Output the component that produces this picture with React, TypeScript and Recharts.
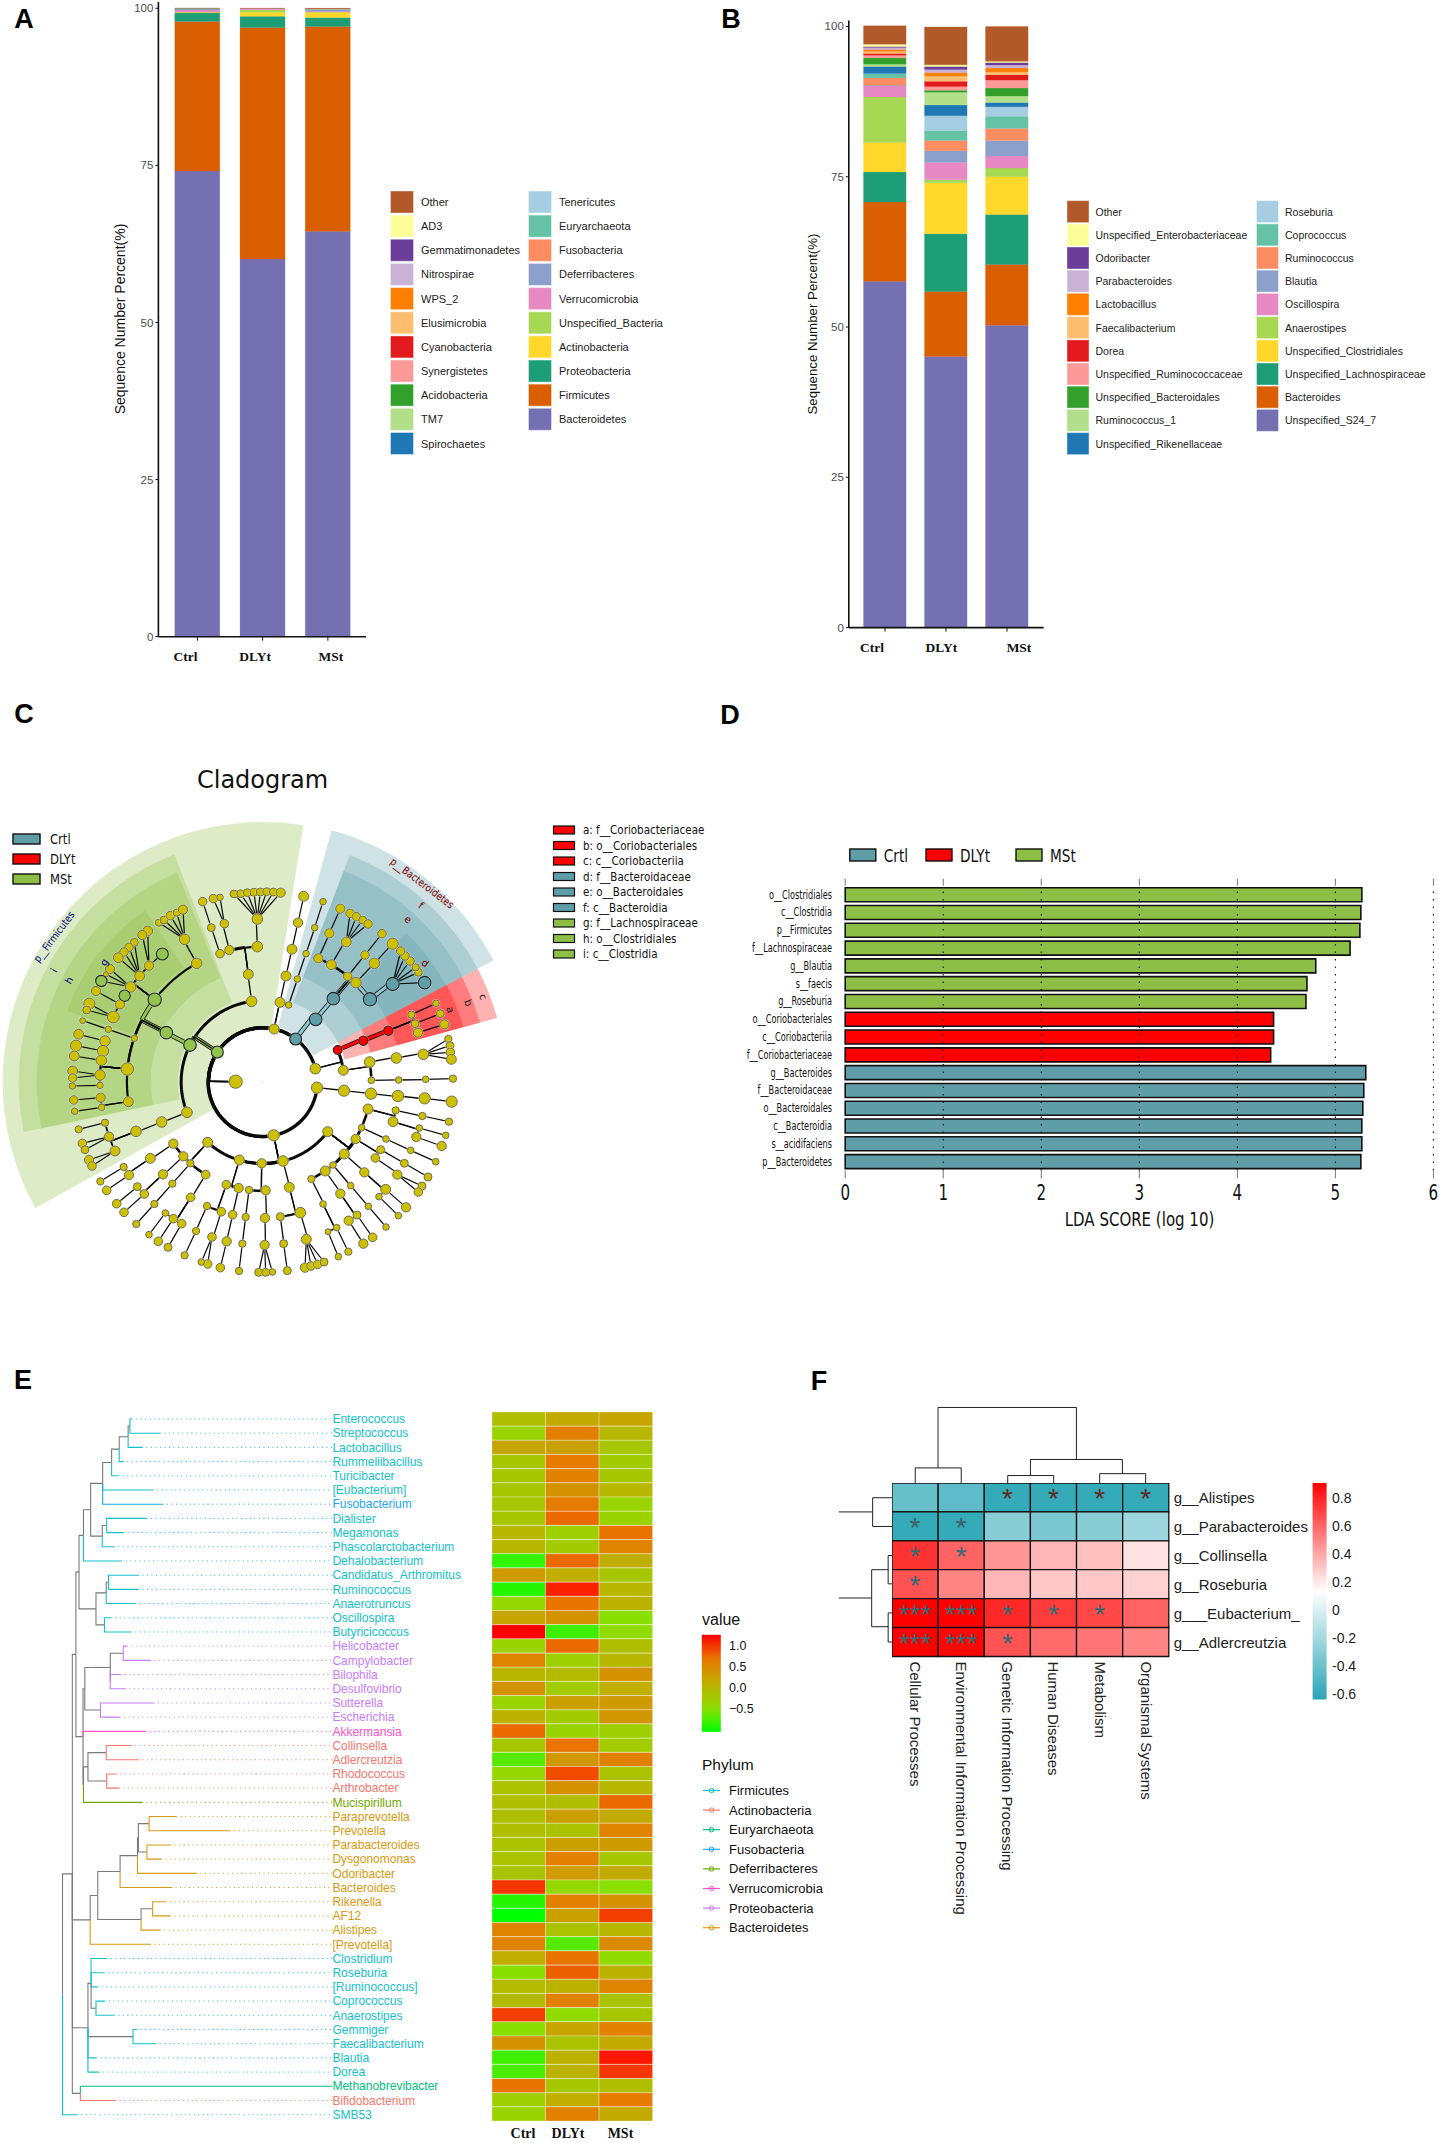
import React from 'react';
import {
  Bar, BarChart, Cell, LabelList, Pie, PieChart, ReferenceLine, Scatter, ScatterChart, XAxis, YAxis,
} from 'recharts';

const SANS = '"Liberation Sans", Arial, sans-serif';
const DEJAVU = '"DejaVu Sans", sans-serif';
const SERIF = '"Liberation Serif", serif';

const samples = ['Ctrl', 'DLYt', 'MSt'];

// panel A, bottom of stack first
const phylumNames = ['Bacteroidetes', 'Firmicutes', 'Proteobacteria', 'Actinobacteria', 'Unspecified_Bacteria', 'Verrucomicrobia', 'Deferribacteres', 'Fusobacteria', 'Euryarchaeota', 'Tenericutes', 'Spirochaetes', 'TM7', 'Acidobacteria', 'Synergistetes', 'Cyanobacteria', 'Elusimicrobia', 'WPS_2', 'Nitrospirae', 'Gemmatimonadetes', 'AD3', 'Other'];
const phylumCtrl = [74.1, 23.8, 1.36, 0.1, 0.03, 0.35, 0.2, 0.01, 0.01, 0.01, 0.01, 0.01, 0, 0, 0, 0, 0, 0, 0, 0, 0.01];
const phylumDlyt = [60.1, 36.83, 1.8, 0.63, 0.42, 0.15, 0.05, 0, 0, 0, 0, 0, 0, 0, 0, 0, 0, 0, 0, 0, 0.02];
const phylumMst = [64.5, 32.59, 1.43, 0.85, 0.05, 0.05, 0.35, 0.02, 0.02, 0.02, 0, 0, 0, 0, 0, 0, 0, 0, 0, 0, 0.12];

// panel B, bottom of stack first
const genusNames = ['Unspecified_S24_7', 'Bacteroides', 'Unspecified_Lachnospiraceae', 'Unspecified_Clostridiales', 'Anaerostipes', 'Oscillospira', 'Blautia', 'Ruminococcus', 'Coprococcus', 'Roseburia', 'Unspecified_Rikenellaceae', 'Ruminococcus_1', 'Unspecified_Bacteroidales', 'Unspecified_Ruminococcaceae', 'Dorea', 'Faecalibacterium', 'Lactobacillus', 'Parabacteroides', 'Odoribacter', 'Unspecified_Enterobacteriaceae', 'Other'];
const genusCtrl = [57.6, 13.2, 5.0, 4.88, 7.6, 1.83, 0.11, 1.22, 0.67, 0.05, 1.17, 0.39, 1.05, 0.44, 0.28, 0.33, 0.33, 0.33, 0.17, 0.4, 3.05];
const genusDlyt = [45.1, 10.8, 9.6, 8.5, 0.5, 2.88, 1.94, 1.72, 1.66, 2.44, 1.77, 2.16, 0.33, 0.6, 0.9, 0.83, 0.6, 0.5, 0.5, 0.28, 6.3];
const genusMst = [50.3, 10.1, 8.3, 6.3, 1.44, 2.0, 2.6, 2.0, 2.0, 1.6, 0.72, 1.05, 1.33, 1.33, 0.9, 0.44, 0.67, 0.5, 0.4, 0.22, 5.8];

const stackColors = ['#7470B2', '#DA5F01', '#1D9E77', '#FFD82B', '#A6D854', '#E78AC3', '#8DA0CB', '#FC8D62', '#66C2A5', '#A6CEE3', '#1F78B4', '#B2DF8A', '#33A02C', '#FB9A99', '#E31A1C', '#FDBF6F', '#FF7F00', '#CAB2D6', '#6A3D9A', '#FFFF99', '#B15928'];

// panel D
const ldaNames = ['o__Clostridiales', 'c__Clostridia', 'p__Firmicutes', 'f__Lachnospiraceae', 'g__Blautia', 's__faecis', 'g__Roseburia', 'o__Coriobacteriales', 'c__Coriobacteriia', 'f__Coriobacteriaceae', 'g__Bacteroides', 'f__Bacteroidaceae', 'o__Bacteroidales', 'c__Bacteroidia', 's__acidifaciens', 'p__Bacteroidetes'];
const ldaScores = [5.27, 5.26, 5.25, 5.15, 4.8, 4.71, 4.7, 4.37, 4.37, 4.34, 5.31, 5.29, 5.28, 5.27, 5.27, 5.26];
const ldaGroups = ['MSt', 'MSt', 'MSt', 'MSt', 'MSt', 'MSt', 'MSt', 'DLYt', 'DLYt', 'DLYt', 'Crtl', 'Crtl', 'Crtl', 'Crtl', 'Crtl', 'Crtl'];
const groupColors: any = { Crtl: '#5F9EA8', DLYt: '#FF0000', MSt: '#8DBF47' };

// panel C, shaded clades: [colour, inner radius, outer radius, start angle, end angle]
const cladeSectors: any[] = [
  ['#8DBF47', 56, 260, 81, 209], ['#8DBF47', 85, 244, 111.2, 191.8], ['#8DBF47', 112, 226, 112.2, 191.8], ['#8DBF47', 139, 208, 124.5, 160],
  ['#5F9EA8', 57, 261, 27.8, 74.7], ['#5F9EA8', 85, 243, 27.8, 69], ['#5F9EA8', 112, 226, 27.8, 69], ['#5F9EA8', 139, 207, 27.8, 46],
  ['#FF0000', 85, 243, 15.3, 27.8], ['#FF0000', 112, 225, 15.3, 27.8], ['#FF0000', 139, 208, 15.3, 27.8],
];

const topLeftNodes: any[] = [
  ['K', 'root', 707, 695, 20], ['F', 'K', 652, 606, 18, 'g'], ['F1', 'F', 755, 454, 16], ['F2', 'F', 570, 585, 19, 'g'],
  ['F1o', 'F1', 745, 373, 15], ['F1a', 'F1o', 772, 290, 16], ['F1b', 'F1o', 688, 300, 14], ['F1c', 'F1o', 660, 311, 13],
  ['F1a1', 'F1a', 772, 207, 16], ['fa1', 'F1a1', 702, 132, 12], ['fa2', 'F1a1', 722, 131, 12], ['fa3', 'F1a1', 742, 128, 12], ['fa4', 'F1a1', 762, 127, 12], ['fa5', 'F1a1', 781, 126, 12], ['fa6', 'F1a1', 800, 125, 12], ['fa7', 'F1a1', 820, 126, 12], ['fa8', 'F1a1', 842, 128, 14],
  ['F1b1', 'F1b', 673, 221, 13], ['F1b2', 'F1b1', 640, 146, 13], ['F1b3', 'F1b1', 660, 142, 10],
  ['F1c1', 'F1c', 634, 233, 12], ['F1c2', 'F1c1', 608, 155, 13],
  ['F2o', 'F2', 499, 548, 19, 'g'], ['Fa', 'F2o', 590, 340, 16], ['Fb', 'F2o', 464, 449, 20, 'g'], ['Fc', 'F2o', 403, 565, 10], ['Fd', 'F2o', 382, 657, 19], ['Fe', 'F2o', 385, 755, 15],
  ['Fa1', 'Fa', 554, 268, 16], ['Fa2', 'Fa1', 477, 218, 11], ['Fa3', 'Fa1', 492, 210, 12], ['Fa4', 'Fa1', 511, 197, 13], ['Fa5', 'Fa1', 530, 188, 11], ['Fa6', 'Fa1', 549, 179, 14],
  ['Fb1', 'Fb', 447, 347, 14], ['Fb2', 'Fb', 419, 378, 15], ['Fb3', 'Fb', 392, 411, 16], ['Fb4', 'Fb', 360, 463, 14], ['Fb5', 'Fb', 340, 501, 18],
  ['Fb1a', 'Fb1', 487, 312, 18, 'g'], ['Fb1b', 'Fb1', 443, 243, 15], ['Fb1c', 'Fb1', 427, 255, 14],
  ['Fb2a', 'Fb2', 403, 277, 12], ['Fb2b', 'Fb2', 387, 292, 13], ['Fb2c', 'Fb2', 372, 306, 13], ['Fb2d', 'Fb2', 355, 323, 15],
  ['Fb3a', 'Fb3', 330, 357, 14], ['Fb3b', 'Fb3', 318, 373, 8], ['Fb3c', 'Fb3', 374, 437, 17, 'g'], ['Fb3d', 'Fb3', 304, 393, 17, 'g'],
  ['Fb4a', 'Fb4', 288, 423, 14], ['Fb5a', 'Fb5', 268, 461, 17], ['Fb5b', 'Fb5', 260, 480, 12],
  ['Fc1', 'Fc', 325, 538, 10], ['Fc2', 'Fc1', 248, 512, 9],
  ['Fd1', 'Fd', 315, 573, 16], ['Fd2', 'Fd', 309, 603, 17], ['Fd3', 'Fd', 304, 631, 16], ['Fd4', 'Fd', 300, 675, 16], ['Fd5', 'Fd', 300, 706, 10],
  ['Fd1a', 'Fd1', 236, 553, 15], ['Fd2a', 'Fd2', 228, 587, 17], ['Fd3a', 'Fd3', 223, 618, 15], ['Fd4a', 'Fd4', 218, 663, 15], ['Fd4b', 'Fd4', 218, 684, 13], ['Fd5a', 'Fd5', 217, 708, 10],
  ['Fe1', 'Fe', 302, 743, 14], ['Fe1a', 'Fe1', 221, 750, 13],
];
const topRightNodes: any[] = [
  ['root', null, 38, 696, 1.5, 'g'],
  ['P2', 'K', 72, 537, 15], ['P2a', 'P2', 90, 457, 15], ['P2b', 'P2', 116, 465, 10],
  ['P2a1', 'P2a', 108, 378, 15], ['P2a2', 'P2a1', 126, 298, 15], ['P2a3', 'P2a2', 144, 218, 14], ['P2a4', 'P2a3', 161, 139, 15],
  ['P2b1', 'P2b', 142, 387, 10], ['P2b2', 'P2b1', 168, 311, 10], ['P2b3', 'P2b2', 194, 233, 10], ['P2b4', 'P2b3', 219, 155, 10],
  ['T', 'K', 137, 567, 18, 't'], ['Tc', 'T', 197, 508, 19, 't'], ['To', 'Tc', 250, 446, 19, 't'],
  ['Tf1', 'To', 360, 448, 20, 't'], ['Tf2', 'To', 318, 398, 16], ['Tf3', 'To', 293, 379, 13], ['Tf4', 'To', 244, 344, 15], ['Tf5', 'To', 205, 325, 14],
  ['Tg1', 'Tf1', 428, 402, 20, 't'], ['Tg2', 'Tf2', 373, 340, 16], ['Tg3', 'Tf3', 345, 315, 13], ['Tg4', 'Tf4', 289, 276, 15], ['Tg5', 'Tf5', 238, 250, 14],
  ['Ts2', 'Tg2', 428, 281, 17], ['Ts3', 'Tg3', 396, 251, 13], ['Ts5', 'Tg5', 271, 176, 14],
  ['Ts4a', 'Tg4', 300, 190, 13], ['Ts4b', 'Tg4', 319, 200, 13], ['Ts4c', 'Tg4', 338, 210, 12], ['Ts4d', 'Tg4', 354, 222, 13],
  ['Ts1a', 'Tg1', 524, 398, 19, 't'], ['Ts1b', 'Tg1', 505, 367, 12], ['Ts1c', 'Tg1', 497, 352, 11], ['Ts1d', 'Tg1', 480, 333, 13], ['Ts1e', 'Tg1', 465, 318, 13], ['Ts1f', 'Tg1', 452, 303, 13],
  ['A', 'K', 196, 656, 16], ['Ar', 'A', 263, 600, 13, 'r'], ['Ay', 'A', 280, 661, 15],
  ['Ar1', 'Ar', 340, 572, 14, 'r'], ['Ar2', 'Ar1', 415, 542, 14, 'r'],
  ['Ar3', 'Ar2', 484, 494, 11], ['Ar4', 'Ar2', 495, 521, 12], ['Ar5', 'Ar2', 504, 548, 14],
  ['Ar3a', 'Ar3', 558, 460, 10], ['Ar4a', 'Ar4', 571, 491, 12], ['Ar5a', 'Ar5', 583, 523, 14],
  ['Ay1', 'Ay', 359, 636, 16], ['Ay2', 'Ay', 364, 691, 10], ['Ay1a', 'Ay1', 439, 624, 16], ['Ay1b', 'Ay1a', 520, 613, 16],
  ['Ay1c', 'Ay1b', 595, 567, 11], ['Ay1d', 'Ay1b', 600, 587, 12], ['Ay1e', 'Ay1b', 601, 607, 13], ['Ay1f', 'Ay1b', 604, 628, 15],
  ['Ay2a', 'Ay2', 446, 690, 10], ['Ay2b', 'Ay2a', 527, 688, 10], ['Ay2c', 'Ay2b', 609, 686, 11],
  ['C1', 'K', 201, 713, 17], ['C2', 'C1', 282, 722, 17], ['C3', 'C2', 363, 731, 17], ['C4', 'C3', 444, 738, 17], ['C5', 'C4', 524, 745, 17], ['C6', 'C5', 605, 755, 17],
];
const bottomLeftNodes: any[] = [
  ['Ff1', 'Fe', 185, 82, 10], ['Ff2', 'Ff1', 104, 94, 10],
  ['F3', 'F', 441, 97, 16], ['F3a', 'F3', 365, 126, 16], ['F3b', 'F3a', 288, 154, 16],
  ['F3c', 'F3b', 195, 128, 11], ['F3d', 'F3b', 207, 170, 14], ['F3e', 'F3b', 225, 213, 15],
  ['F3c1', 'F3c', 116, 148, 11], ['F3d1', 'F3d', 127, 190, 13], ['F3d2', 'F3d', 135, 209, 12], ['F3e1', 'F3e', 147, 240, 14], ['F3e2', 'F3e', 156, 258, 13],
  ['Bc', 'B', 665, 250, 14], ['Bd', 'B', 598, 240, 15], ['Be', 'B', 503, 187, 15],
  ['Bc1', 'Bc', 677, 331, 14], ['Bc2', 'Bc', 627, 330, 11],
  ['Bc1a', 'Bc1', 675, 414, 14], ['Bc1b', 'Bc1a', 674, 495, 14], ['Bc1c', 'Bc1b', 656, 577, 12], ['Bc1d', 'Bc1b', 677, 577, 12], ['Bc1e', 'Bc1b', 697, 576, 10],
  ['Bc2a', 'Bc2', 617, 411, 11], ['Bc2b', 'Bc2a', 607, 491, 11], ['Bc2c', 'Bc2b', 597, 573, 11],
  ['Bd1', 'Bd', 596, 324, 14], ['Bd2', 'Bd', 559, 314, 13],
  ['Bd1a', 'Bd1', 578, 404, 13], ['Bd1b', 'Bd1a', 560, 484, 14], ['Bd1c', 'Bd1b', 541, 563, 13],
  ['Bd2a', 'Bd2', 544, 395, 13], ['Bd2b', 'Bd2', 501, 378, 11], ['Bd2c', 'Bd2a', 516, 471, 13], ['Bd2d', 'Bd2c', 503, 552, 13], ['Bd2e', 'Bd2c', 484, 546, 10], ['Bd2f', 'Bd2b', 468, 453, 11], ['Bd2g', 'Bd2f', 434, 526, 11],
  ['Be1', 'Be', 400, 191, 14], ['Be2', 'Be', 430, 229, 14], ['Be3', 'Be', 451, 250, 11], ['Be4', 'Be', 497, 284, 13],
  ['Be1a', 'Be1', 331, 235, 15], ['Be1b', 'Be1a', 267, 285, 14], ['Be1c', 'Be1a', 251, 261, 11], ['Be1d', 'Be1b', 200, 331, 13], ['Be1e', 'Be1c', 181, 304, 11],
  ['Be2a', 'Be2', 369, 283, 14], ['Be2b', 'Be2a', 313, 342, 13], ['Be2c', 'Be2a', 292, 320, 12], ['Be2d', 'Be2b', 252, 397, 13], ['Be2e', 'Be2c', 230, 371, 13],
  ['Be3a', 'Be3', 397, 311, 11], ['Be3b', 'Be3a', 343, 372, 11], ['Be3c', 'Be3b', 289, 432, 11],
  ['Be4a', 'Be4', 452, 352, 13], ['Be4b', 'Be4a', 400, 416, 13], ['Be4c', 'Be4a', 425, 431, 13], ['Be4d', 'Be4a', 376, 399, 10], ['Be4e', 'Be4b', 355, 484, 13], ['Be4f', 'Be4c', 384, 502, 12], ['Be4g', 'Be4d', 327, 464, 10],
];
const bottomRightNodes: any[] = [
  ['B', 'K', 41, 166, 17], ['Ba', 'B', 203, 155, 15], ['Bb', 'B', 69, 243, 16],
  ['Ba1', 'Ba', 324, 87, 15], ['Ba2', 'Ba', 305, 143, 10], ['Ba3', 'Ba', 287, 177, 14], ['Ba4', 'Ba', 253, 222, 15], ['Ba5', 'Ba', 219, 255, 10], ['Ba6', 'Ba', 196, 273, 15], ['Ba7', 'Ba', 154, 297, 11],
  ['Ba1a', 'Ba1', 407, 91, 11], ['Ba1b', 'Ba1', 399, 125, 15], ['Ba1c', 'Ba1a', 487, 108, 11], ['Ba1d', 'Ba1c', 567, 125, 11], ['Ba1e', 'Ba1b', 478, 144, 10], ['Ba1f', 'Ba1e', 557, 166, 10], ['Ba1g', 'Ba1b', 469, 171, 14], ['Ba1h', 'Ba1g', 545, 198, 14],
  ['Ba2a', 'Ba2', 378, 177, 10], ['Ba2b', 'Ba2a', 452, 211, 10], ['Ba2c', 'Ba2b', 527, 245, 10],
  ['Ba3a', 'Ba3', 362, 209, 12], ['Ba3b', 'Ba3a', 433, 250, 12], ['Ba3c', 'Ba3b', 504, 291, 12], ['Ba3d', 'Ba3', 346, 234, 13], ['Ba3e', 'Ba3d', 412, 284, 14], ['Ba3f', 'Ba3e', 486, 318, 12], ['Ba3g', 'Ba3e', 475, 336, 13],
  ['Ba4a', 'Ba4', 313, 277, 14], ['Ba4b', 'Ba4a', 377, 328, 15], ['Ba4c', 'Ba4b', 438, 382, 14], ['Ba4d', 'Ba4a', 357, 350, 10], ['Ba4e', 'Ba4d', 415, 407, 10],
  ['Ba5a', 'Ba5', 272, 317, 10], ['Ba5b', 'Ba5a', 325, 379, 10], ['Ba5c', 'Ba5b', 378, 441, 10],
  ['Ba6a', 'Ba6', 241, 341, 14], ['Ba6b', 'Ba6a', 291, 405, 12], ['Ba6c', 'Ba6b', 338, 472, 13], ['Ba6d', 'Ba6a', 266, 422, 14], ['Ba6e', 'Ba6d', 310, 491, 14],
  ['Ba7a', 'Ba7', 189, 372, 10], ['Ba7b', 'Ba7a', 230, 443, 10], ['Ba7c', 'Ba7b', 265, 515, 11], ['Ba7d', 'Ba7a', 204, 455, 9], ['Ba7e', 'Ba7d', 235, 530, 10],
  ['Bb1', 'Bb', 88, 322, 15], ['Bb2', 'Bb1', 121, 398, 16], ['Bb3', 'Bb1', 61, 410, 12], ['Bb4', 'Bb2', 139, 478, 15],
  ['Bb4a', 'Bb4', 135, 563, 14], ['Bb4b', 'Bb4', 153, 558, 13], ['Bb4c', 'Bb4', 173, 553, 13], ['Bb4d', 'Bb4', 192, 546, 12],
  ['Bb5', 'Bb3', 71, 491, 12], ['Bb6', 'Bb5', 82, 572, 12],
];

// panel E
const leafNames = ['Enterococcus', 'Streptococcus', 'Lactobacillus', 'Rummeliibacillus', 'Turicibacter', '[Eubacterium]', 'Fusobacterium', 'Dialister', 'Megamonas', 'Phascolarctobacterium', 'Dehalobacterium', 'Candidatus_Arthromitus', 'Ruminococcus', 'Anaerotruncus', 'Oscillospira', 'Butyricicoccus', 'Helicobacter', 'Campylobacter', 'Bilophila', 'Desulfovibrio', 'Sutterella', 'Escherichia', 'Akkermansia', 'Collinsella', 'Adlercreutzia', 'Rhodococcus', 'Arthrobacter', 'Mucispirillum', 'Paraprevotella', 'Prevotella', 'Parabacteroides', 'Dysgonomonas', 'Odoribacter', 'Bacteroides', 'Rikenella', 'AF12', 'Alistipes', '[Prevotella]', 'Clostridium', 'Roseburia', '[Ruminococcus]', 'Coprococcus', 'Anaerostipes', 'Gemmiger', 'Faecalibacterium', 'Blautia', 'Dorea', 'Methanobrevibacter', 'Bifidobacterium', 'SMB53'];
const leafPhylum = ['Firmicutes', 'Firmicutes', 'Firmicutes', 'Firmicutes', 'Firmicutes', 'Firmicutes', 'Fusobacteria', 'Firmicutes', 'Firmicutes', 'Firmicutes', 'Firmicutes', 'Firmicutes', 'Firmicutes', 'Firmicutes', 'Firmicutes', 'Firmicutes', 'Proteobacteria', 'Proteobacteria', 'Proteobacteria', 'Proteobacteria', 'Proteobacteria', 'Proteobacteria', 'Verrucomicrobia', 'Actinobacteria', 'Actinobacteria', 'Actinobacteria', 'Actinobacteria', 'Deferribacteres', 'Bacteroidetes', 'Bacteroidetes', 'Bacteroidetes', 'Bacteroidetes', 'Bacteroidetes', 'Bacteroidetes', 'Bacteroidetes', 'Bacteroidetes', 'Bacteroidetes', 'Bacteroidetes', 'Firmicutes', 'Firmicutes', 'Firmicutes', 'Firmicutes', 'Firmicutes', 'Firmicutes', 'Firmicutes', 'Firmicutes', 'Firmicutes', 'Euryarchaeota', 'Actinobacteria', 'Firmicutes'];
const phylumLegend = ['Firmicutes', 'Actinobacteria', 'Euryarchaeota', 'Fusobacteria', 'Deferribacteres', 'Verrucomicrobia', 'Proteobacteria', 'Bacteroidetes'];
const phylumLineColors = ['#12C2C9', '#F8766D', '#00BF7D', '#1AA7F5', '#6FA800', '#FF50C8', '#C77CFF', '#D89A10'];
const heatCtrl = [-0.1, -0.35, 0.2, -0.2, -0.2, -0.2, -0.2, -0.2, 0, 0, -0.85, 0.3, -0.9, -0.4, 0.2, 1.26, -0.35, 0.55, 0, 0.4, -0.35, 0.05, 0.75, -0.2, -0.7, -0.4, -0.15, -0.1, -0.1, -0.1, -0.15, -0.15, -0.15, 1.0, -0.9, -1.05, 0.55, 0.55, 0.1, -0.5, -0.05, -0.05, 0.95, -0.5, 0.4, -0.8, -0.75, 0.7, -0.3, -0.35];
const heatDlyt = [0.15, 0.6, 0.25, 0.65, 0.6, 0.4, 0.65, 0.75, -0.3, -0.25, 0.75, 0.1, 1.1, 0.7, 0.4, -0.8, 0.75, -0.3, -0.05, -0.25, 0.25, -0.25, -0.35, 0.7, 0.35, 0.9, 0.4, -0.1, 0.25, -0.15, 0.25, 0.6, 0.3, -0.4, 0.6, 0.25, -0.15, -0.7, 0.7, 0.8, 0.05, 0.6, -0.45, 0.2, -0.15, 0.05, 0.05, -0.2, 0.1, 0.6];
const heatMst = [0.2, 0, -0.2, -0.25, -0.2, 0, -0.35, -0.35, 0.7, 0.55, 0.1, -0.2, 0, 0.05, -0.5, -0.45, -0.1, 0, 0.4, 0.1, 0.3, 0.35, -0.3, -0.25, 0.6, -0.15, 0, 0.75, 0.15, 0.55, 0.3, -0.2, 0.15, -0.5, 0.4, 0.95, 0, 0.5, -0.45, 0.05, 0.55, -0.15, -0.2, 0.6, 0.15, 1.15, 1.0, -0.1, 0.65, 0.15];

// panel F
const pathways = ['Cellular Processes', 'Environmental Information Processing', 'Genetic Information Processing', 'Human Diseases', 'Metabolism', 'Organismal Systems'];
const corrGenera = ['g__Alistipes', 'g__Parabacteroides', 'g__Collinsella', 'g__Roseburia', 'g___Eubacterium_', 'g__Adlercreutzia'];
const corrValues = [
  [-0.42, -0.45, -0.6, -0.6, -0.6, -0.6],
  [-0.6, -0.6, -0.3, -0.35, -0.3, -0.22],
  [0.75, 0.6, 0.45, 0.35, 0.32, 0.22],
  [0.65, 0.5, 0.35, 0.3, 0.3, 0.27],
  [0.9, 0.9, 0.78, 0.72, 0.68, 0.6],
  [0.9, 0.88, 0.65, 0.58, 0.55, 0.5],
];
const corrStars = [
  ['', '', '*', '*', '*', '*'],
  ['*', '*', '', '', '', ''],
  ['*', '*', '', '', '', ''],
  ['*', '', '', '', '', ''],
  ['***', '***', '*', '*', '*', ''],
  ['***', '***', '*', '', '', ''],
];
const corrTicks = [0.8, 0.6, 0.4, 0.2, 0, -0.2, -0.4, -0.6];
const valueTicks = ['1.0', '0.5', '0.0', '\u22120.5'];

// dendrogram polylines for panel F in the units of the crop
const corrDendro: number[][][] = [
  [[486, 322], [486, 282], [581, 282], [581, 322]],
  [[533, 282], [533, 124], [819, 124], [819, 260]],
  [[724, 260], [914, 260]],
  [[724, 260], [724, 302]],
  [[914, 260], [914, 297]],
  [[677, 322], [677, 302], [772, 302], [772, 322]],
  [[867, 322], [867, 297], [962, 297], [962, 322]],
  [[438, 360], [398, 360], [398, 435], [438, 435]],
  [[328, 397], [398, 397]],
  [[328, 622], [396, 622]],
  [[430, 548], [396, 548], [396, 697], [430, 697]],
  [[438, 511], [430, 511], [430, 585], [438, 585]],
  [[438, 661], [430, 661], [430, 737], [438, 737]],
];

// tree of panel E: x of every fork and tip in crop units
const N = (x: number, ...kids: any[]) => ({ x, kids });
const L = (name: string, x: number) => ({ x, name, kids: [] as any[] });
const leafTree = N(140,
  N(162,
    N(170,
      N(177,
        N(187,
          N(203,
            N(230,
              N(250,
                N(267,
                  N(287, N(291, L('Enterococcus', 295), L('Streptococcus', 358)), L('Lactobacillus', 318)),
                  L('Rummeliibacillus', 275)),
                L('Turicibacter', 265)),
              L('[Eubacterium]', 342),
              L('Fusobacterium', 364)),
            N(229, N(239, L('Dialister', 328), L('Megamonas', 277)), L('Phascolarctobacterium', 255))),
          L('Dehalobacterium', 272)),
        N(215,
          N(238, N(243, L('Candidatus_Arthromitus', 309), L('Ruminococcus', 309)), L('Anaerotruncus', 303)),
          N(234, L('Oscillospira', 248), L('Butyricicoccus', 293)))),
      N(186,
        N(190,
          N(207,
            N(247,
              N(276, L('Helicobacter', 284), L('Campylobacter', 336)),
              N(247, L('Bilophila', 270), L('Desulfovibrio', 280)))),
          N(225, L('Sutterella', 344), L('Escherichia', 268))),
        L('Akkermansia', 326),
        N(187,
          N(197,
            N(238, L('Collinsella', 293), L('Adlercreutzia', 309)),
            N(239, L('Rhodococcus', 260), L('Arthrobacter', 266))),
          L('Mucispirillum', 318)))),
    N(202,
      N(219,
        N(269,
          N(308,
            N(310,
              N(334, L('Paraprevotella', 395), L('Prevotella', 515)),
              N(329, L('Parabacteroides', 381), L('Dysgonomonas', 361))),
            L('Odoribacter', 439)),
          L('Bacteroides', 383)),
        N(316, N(342, L('Rikenella', 371), L('AF12', 381)), L('Alistipes', 358))),
      L('[Prevotella]', 336)),
    N(197,
      N(204,
        L('Clostridium', 238), L('Roseburia', 232), L('[Ruminococcus]', 218),
        N(215, L('Coprococcus', 234), L('Anaerostipes', 255))),
      N(298, L('Gemmiger', 305), L('Faecalibacterium', 349)),
      L('Blautia', 215), L('Dorea', 221)),
    N(180, L('Methanobrevibacter', 745), L('Bifidobacterium', 258))),
  L('SMB53', 172));

const noDot = () => null;
const noTickText = () => <g />;

const mixRgb = (a: number[], b: number[], t: number) => a.map((v, i) => Math.round(v + (b[i] - v) * t));
const rgb = (c: number[]) => `rgb(${c[0]},${c[1]},${c[2]})`;
const heatStops = [[0, 255, 0], [143, 221, 0], [192, 174, 0], [232, 120, 0], [255, 0, 0]];
const heatColor = (v: number) => {
  const t = Math.min(0.9999, Math.max(0, (v + 1.05) / 2.31)) * 4;
  const i = Math.floor(t);
  return rgb(mixRgb(heatStops[i], heatStops[i + 1], t - i));
};
const corrColor = (v: number) => {
  if (v < 0.13) return rgb(mixRgb([255, 255, 255], [42, 165, 181], Math.min(1, (0.13 - v) / 0.77)));
  return rgb(mixRgb([255, 255, 255], [255, 0, 0], Math.min(1, (v - 0.13) / 0.77)));
};

// lay out the cladogram
const centre = { x: 262.7, y: 1082 };
const fromCrop = (list: any[], ox: number, oy: number) => list.map(([id, parent, px, py, r, kind]) => ({
  id, parent, x: ox + px / 3, y: oy + py / 3, r: r / 3, kind: kind || 'y',
}));
const cladeNodes = [
  ...fromCrop(topRightNodes, 250, 850),
  ...fromCrop(topLeftNodes, 0, 850),
  ...fromCrop(bottomLeftNodes, 40, 1080),
  ...fromCrop(bottomRightNodes, 260, 1080),
];
const nodeById: any = {};
cladeNodes.forEach((n) => { nodeById[n.id] = n; });
const depthOf = (n: any): number => (n.id === 'K' ? 0 : 1 + depthOf(nodeById[n.parent]));
const arcWidths = [0, 3.4, 3, 2.6, 2.2, 1.8];
const cladeEdges: any[] = [];
cladeNodes.forEach((n) => {
  if (!n.parent || n.parent === 'root') return;
  const p = nodeById[n.parent];
  const depth = depthOf(n);
  const rc = Math.hypot(n.x - centre.x, n.y - centre.y);
  const ap = Math.atan2(p.y - centre.y, p.x - centre.x);
  const ac = Math.atan2(n.y - centre.y, n.x - centre.x);
  const coloured = n.kind !== 'y' && p.kind !== 'y' && depth > 1;
  if (depth >= 6) {
    cladeEdges.push({ width: 1.2, kind: 'y', pts: [{ x: p.x, y: p.y }, { x: n.x, y: n.y }] });
    return;
  }
  let da = ac - ap;
  while (da > Math.PI) da -= 2 * Math.PI;
  while (da < -Math.PI) da += 2 * Math.PI;
  const steps = Math.max(1, Math.ceil(Math.abs(da) / 0.05));
  const arc = [];
  for (let i = 0; i <= steps; i += 1) {
    const a = ap + (da * i) / steps;
    arc.push({ x: centre.x + rc * Math.cos(a), y: centre.y + rc * Math.sin(a) });
  }
  cladeEdges.push({ width: coloured ? 3 : 1.3, kind: coloured ? n.kind : 'y', pts: [{ x: p.x, y: p.y }, arc[0]] });
  cladeEdges.push({ width: coloured ? 3 : arcWidths[depth], kind: coloured ? n.kind : 'y', pts: arc });
});
const nodeFill: any = { y: '#CCC000', g: '#92C450', t: '#5F9EA8', r: '#FF0000' };

// lay out the panel E tree
const placeTree = (n: any): number => {
  if (n.name) { n.y = leafNames.indexOf(n.name); return n.y; }
  const ys = n.kids.map(placeTree);
  n.y = (Math.min(...ys) + Math.max(...ys)) / 2;
  return n.y;
};
placeTree(leafTree);
const treeLines: any[] = [];
const walkTree = (n: any) => {
  n.kids.forEach((k: any) => {
    const color = k.name ? phylumLineColors[phylumLegend.indexOf(leafPhylum[leafNames.indexOf(k.name)])] : '#7A7A7A';
    treeLines.push({ color, dash: undefined, pts: [{ x: n.x, y: n.y }, { x: n.x, y: k.y }, { x: k.x, y: k.y }] });
    if (k.name && k.x < 745) treeLines.push({ color, dash: '1 3.5', pts: [{ x: k.x, y: k.y }, { x: 745, y: k.y }] });
    walkTree(k);
  });
};
walkTree(leafTree);
const treeLabels = leafNames.map((name, i) => ({
  x: 748, y: i, name, color: phylumLineColors[phylumLegend.indexOf(leafPhylum[i])],
}));

const Abs = ({ left, top, width, height, children }: any) => (
  <div style={{ position: 'absolute', left, top, width, height, overflow: 'hidden' }}>{children}</div>
);

const StackPanel = ({ names, vals, left, plotTop, plotBottom, plotLeft, plotRight, padL, padR, barSize, labelDx }: any) => {
  const rows = samples.map((s, i) => {
    const row: any = { sample: s };
    names.forEach((n: string, k: number) => { row[n] = vals[i][k]; });
    return row;
  });
  const h = plotBottom + 43;
  const xTick = (p: any) => (
    <text x={p.x + labelDx[p.index]} y={plotBottom + 24} textAnchor="middle" fontFamily={SERIF} fontWeight="bold" fontSize={13.5} fill="#111">{p.payload.value}</text>
  );
  return (
    <Abs left={left} top={0} width={plotRight - left + 3} height={h}>
      <BarChart width={plotRight - left + 3} height={h} data={rows} barSize={barSize} margin={{ top: plotTop, right: 3, bottom: 13, left: 0 }}>
        <XAxis dataKey="sample" height={30} padding={{ left: padL, right: padR }} interval={0} tick={xTick} tickSize={4} stroke="#111" axisLine={{ stroke: '#111', strokeWidth: 1.6 }} tickLine={{ stroke: '#111' }} />
        <YAxis type="number" domain={[0, 101]} ticks={[0, 25, 50, 75, 100]} width={plotLeft - left} tickSize={3} tickMargin={2} tick={{ fontFamily: SANS, fontSize: 11.5, fill: '#4d4d4d' }} axisLine={{ stroke: '#111', strokeWidth: 1.6 }} tickLine={{ stroke: '#111' }} />
        {names.map((n: string, k: number) => (
          <Bar key={n} dataKey={n} stackId="s" fill={stackColors[k]} stroke={stackColors[k]} strokeOpacity={0.5} strokeWidth={0.5} isAnimationActive={false} />
        ))}
      </BarChart>
    </Abs>
  );
};

const ldaTicks = [0, 1, 2, 3, 4, 5, 6];

const LdaPanel = () => {
  const rows = ldaNames.map((name, i) => ({ name, score: ldaScores[i] }));
  const catTick = (p: any) => (
    <text transform={`translate(${112},${p.y + 4}) scale(0.68,1)`} textAnchor="end" fontFamily={DEJAVU} fontSize={12} fill="#111">{p.payload.value}</text>
  );
  const numTick = (p: any) => (
    <text transform={`translate(${p.x},${p.y + 22}) scale(0.72,1)`} textAnchor="middle" fontFamily={DEJAVU} fontSize={21} fill="#111">{p.payload.value}</text>
  );
  return (
    <>
      <Abs left={720} top={850} width={719} height={362}>
        <BarChart width={719} height={362} layout="vertical" data={rows} barSize={14} margin={{ top: 35.7, right: 5.6, bottom: 0, left: 0 }}>
          <XAxis type="number" domain={[0, 6]} ticks={ldaTicks} height={41.6} tick={numTick} axisLine={false} tickLine={false} />
          <YAxis type="category" dataKey="name" width={125.2} interval={0} tick={catTick} axisLine={false} tickLine={false} />
          <Bar dataKey="score" stroke="#111" strokeWidth={1.6} isAnimationActive={false}>
            {ldaGroups.map((g, i) => <Cell key={i} fill={groupColors[g]} />)}
          </Bar>
        </BarChart>
      </Abs>
      {/* the dotted grid sits on top of the bars, so it gets its own layer */}
      <Abs left={720} top={850} width={719} height={362}>
        <BarChart width={719} height={362} layout="vertical" data={rows} margin={{ top: 20, right: 5.6, bottom: 0, left: 125.2 }}>
          <XAxis xAxisId="top" orientation="top" type="number" domain={[0, 6]} ticks={ldaTicks} interval={0} height={15.7} tick={noTickText} axisLine={false} tickLine={{ stroke: '#777' }} tickSize={7} />
          <XAxis xAxisId="bottom" orientation="bottom" type="number" domain={[0, 6]} ticks={ldaTicks} interval={0} height={41.6} tick={noTickText} axisLine={false} tickLine={{ stroke: '#777' }} tickSize={8} />
          <YAxis type="category" dataKey="name" hide />
          <Bar xAxisId="top" dataKey="score" fill="none" stroke="none" isAnimationActive={false} />
          <Bar xAxisId="bottom" dataKey="score" fill="none" stroke="none" isAnimationActive={false} />
          {[1, 2, 3, 4, 5, 6].map((v) => (
            <ReferenceLine key={v} xAxisId="bottom" x={v} stroke="#111" strokeWidth={1.1} strokeDasharray="1.5 6" />
          ))}
        </BarChart>
      </Abs>
    </>
  );
};

const CladeShades = () => (
  <Abs left={0} top={820} width={520} height={470}>
    <PieChart width={520} height={470} margin={{ top: 0, right: 0, bottom: 0, left: 0 }}>
      {cladeSectors.map(([color, inner, outer, start, end], i) => (
        <Pie key={i} data={[{ v: 1 }]} dataKey="v" cx={centre.x} cy={centre.y - 820} innerRadius={inner} outerRadius={outer} startAngle={start} endAngle={end} fill={color} fillOpacity={0.3} stroke="none" isAnimationActive={false} />
      ))}
    </PieChart>
  </Abs>
);

const CladeTree = () => (
  <Abs left={0} top={820} width={520} height={470}>
    <ScatterChart width={520} height={470} margin={{ top: 0, right: 0, bottom: 0, left: 0 }}>
      <XAxis type="number" dataKey="x" domain={[0, 520]} hide />
      <YAxis type="number" dataKey="y" domain={[820, 1290]} reversed hide />
      {cladeEdges.filter((e) => e.kind !== 'y').map((e, i) => (
        <Scatter key={`h${i}`} data={e.pts} shape={noDot} line={{ stroke: '#111', strokeWidth: e.width + 1.6 }} isAnimationActive={false} />
      ))}
      {cladeEdges.map((e, i) => (
        <Scatter key={`e${i}`} data={e.pts} shape={noDot} line={{ stroke: e.kind === 'y' ? '#0a0a0a' : (e.kind === 't' ? '#8ECAD3' : nodeFill[e.kind]), strokeWidth: e.width }} isAnimationActive={false} />
      ))}
      <Scatter
        data={cladeNodes}
        isAnimationActive={false}
        shape={(p: any) => (
          <g>
            <circle cx={p.cx} cy={p.cy} r={p.payload.r + 0.9} fill="#fff" fillOpacity={0.55} />
            <circle cx={p.cx} cy={p.cy} r={p.payload.r} fill={nodeFill[p.payload.kind]} stroke={p.payload.id === 'root' ? 'none' : (p.payload.kind === 'y' ? '#555' : '#222')} strokeWidth={p.payload.kind === 'y' ? 0.8 : 1.1} />
          </g>
        )}
      />
    </ScatterChart>
  </Abs>
);

const LeafTree = () => (
  <Abs left={0} top={1408.9} width={700} height={715.7}>
    <ScatterChart width={700} height={715.7} margin={{ top: 10, right: 0, bottom: 10, left: 0 }}>
      <XAxis type="number" dataKey="x" domain={[0, 1568]} hide />
      <YAxis type="number" dataKey="y" domain={[0, 49]} reversed hide />
      {treeLines.map((l, i) => (
        <Scatter key={i} data={l.pts} shape={noDot} line={{ stroke: l.color, strokeWidth: l.dash ? 1 : 1.1, strokeDasharray: l.dash }} isAnimationActive={false} />
      ))}
      <Scatter
        data={treeLabels}
        isAnimationActive={false}
        shape={(p: any) => (
          <text x={p.cx - 1.5} y={p.cy + 4.2} fontFamily={SANS} fontSize={12} fill={p.payload.color}>{p.payload.name}</text>
        )}
      />
    </ScatterChart>
  </Abs>
);

const LeafHeat = () => {
  const rows = leafNames.map((name) => ({ name, a: 1, b: 1, c: 1 }));
  const cols = [['a', heatCtrl], ['b', heatDlyt], ['c', heatMst]] as any[];
  return (
    <Abs left={492.4} top={1412.4} width={160.6} height={709.2}>
      <BarChart width={160.6} height={709.2} layout="vertical" data={rows} barCategoryGap={0} margin={{ top: 0, right: 0, bottom: 0, left: 0 }}>
        <XAxis type="number" domain={[0, 3]} hide />
        <YAxis type="category" dataKey="name" hide />
        {cols.map(([key, vals]) => (
          <Bar key={key} dataKey={key} stackId="h" stroke="#fff" strokeOpacity={0.3} strokeWidth={1} isAnimationActive={false}>
            {vals.map((v: number, i: number) => <Cell key={i} fill={heatColor(v)} />)}
          </Bar>
        ))}
      </BarChart>
    </Abs>
  );
};

const CorrHeat = () => {
  const rows = corrGenera.map((name, r) => {
    const row: any = { name };
    pathways.forEach((_, c) => { row[`c${c}`] = 1; row[`s${c}`] = corrStars[r][c]; });
    return row;
  });
  const rightTick = (p: any) => (
    <text x={1173.7 - 892} y={p.y + 6} fontFamily={SANS} fontSize={15} fill="#222">{p.payload.value}</text>
  );
  const bottomTick = (p: any) => (
    <text transform={`translate(${p.x - 5},${173.4 + 5}) rotate(90)`} fontFamily={SANS} fontSize={15} fill="#222">{pathways[p.index]}</text>
  );
  const starLabel = (p: any) => {
    if (!p.value) return null;
    const fill = p.index === 0 ? '#5E2A22' : (p.index === 1 ? '#3C5E66' : '#2F6A75');
    return (
      <text x={p.x + p.width / 2} y={p.y + 25} textAnchor="middle" fontFamily={SANS} fontSize={28} fill={fill}>{p.value}</text>
    );
  };
  return (
    <Abs left={892} top={1483} width={420} height={431}>
      <BarChart width={420} height={431} layout="vertical" data={rows} barCategoryGap={0} margin={{ top: 0, right: 0, bottom: 0, left: 0 }}>
        <XAxis type="number" domain={[0, 6]} ticks={[0.5, 1.5, 2.5, 3.5, 4.5, 5.5]} height={257.6} interval={0} tick={bottomTick} axisLine={false} tickLine={false} />
        <YAxis orientation="right" type="category" dataKey="name" width={143.2} interval={0} tick={rightTick} axisLine={false} tickLine={false} />
        {pathways.map((_, c) => (
          <Bar key={c} dataKey={`c${c}`} stackId="h" stroke="#111" strokeWidth={1.3} isAnimationActive={false}>
            {corrGenera.map((__, r) => <Cell key={r} fill={corrColor(corrValues[r][c])} />)}
            <LabelList dataKey={`s${c}`} content={starLabel} />
          </Bar>
        ))}
      </BarChart>
    </Abs>
  );
};

const CorrDendro = () => (
  <Abs left={680} top={1360} width={759} height={600}>
    <ScatterChart width={759} height={600} margin={{ top: 0, right: 0, bottom: 0, left: 0 }}>
      <XAxis type="number" dataKey="x" domain={[0, 1568]} hide />
      <YAxis type="number" dataKey="y" domain={[0, 1568]} reversed hide />
      {corrDendro.map((line, i) => (
        <Scatter key={i} data={line.map(([x, y]) => ({ x, y }))} shape={noDot} line={{ stroke: '#222', strokeWidth: 1 }} isAnimationActive={false} />
      ))}
    </ScatterChart>
  </Abs>
);

const Squeezed = ({ x, y, sx, size, anchor, children, fill, rotate }: any) => (
  <text transform={`translate(${x},${y})${rotate ? ` rotate(${rotate})` : ''} scale(${sx},1)`} fontFamily={DEJAVU} fontSize={size} textAnchor={anchor || 'start'} fill={fill || '#111'}>{children}</text>
);

const StackLegend = ({ names, colLeft, colRight, y0, dy, textDx, fontSize, w, split }: any) => {
  const order = [...names].reverse();
  return (
    <g>
      {order.map((name: string, i: number) => {
        const left = i < split ? colLeft : colRight;
        const row = i < split ? i : i - split;
        const color = stackColors[names.indexOf(name)];
        return (
          <g key={name}>
            <rect x={left} y={y0 + row * dy - 10.5} width={w} height={21} fill={color} stroke={color} strokeOpacity={0.6} />
            <text x={left + textDx} y={y0 + row * dy + 4} fontFamily={SANS} fontSize={fontSize} fill="#222">{name}</text>
          </g>
        );
      })}
    </g>
  );
};

const Overlay = () => {
  const letters: any[] = [['A', 24, 28], ['B', 731, 28], ['C', 24, 723], ['D', 730, 724], ['E', 23, 1389], ['F', 819, 1390]];
  const cladeLegend = ['a: f__Coriobacteriaceae', 'b: o__Coriobacteriales', 'c: c__Coriobacteriia', 'd: f__Bacteroidaceae', 'e: o__Bacteroidales', 'f: c__Bacteroidia', 'g: f__Lachnospiraceae', 'h: o__Clostridiales', 'i: c__Clostridia'];
  const cladeLegendGroups = ['DLYt', 'DLYt', 'DLYt', 'Crtl', 'Crtl', 'Crtl', 'MSt', 'MSt', 'MSt'];
  const groups = ['Crtl', 'DLYt', 'MSt'];
  return (
    <svg width={1439} height={2143} style={{ position: 'absolute', left: 0, top: 0, pointerEvents: 'none' }}>
      <defs>
        <linearGradient id="valueBar" x1="0" y1="0" x2="0" y2="1">
          {[0, 1, 2, 3, 4].map((i) => <stop key={i} offset={`${i * 25}%`} stopColor={rgb(heatStops[4 - i])} />)}
        </linearGradient>
        <linearGradient id="corrBar" x1="0" y1="0" x2="0" y2="1">
          <stop offset="0%" stopColor="#ff0000" />
          <stop offset="50%" stopColor="#ffffff" />
          <stop offset="100%" stopColor="#2AA5B5" />
        </linearGradient>
      </defs>

      {letters.map(([t, x, y]) => (
        <text key={t} x={x} y={y} textAnchor="middle" fontFamily={SANS} fontWeight="bold" fontSize={27} fill="#000">{t}</text>
      ))}

      <text transform="translate(125,319) rotate(-90)" textAnchor="middle" fontFamily={SANS} fontSize={14} fill="#111">Sequence Number Percent(%)</text>
      <text transform="translate(817,324) rotate(-90)" textAnchor="middle" fontFamily={SANS} fontSize={13.3} fill="#111">Sequence Number Percent(%)</text>
      <StackLegend names={phylumNames} colLeft={391} colRight={529} y0={202} dy={24.15} textDx={30} fontSize={11} w={22} split={11} />
      <StackLegend names={genusNames} colLeft={1067.5} colRight={1257} y0={211.6} dy={23.2} textDx={28} fontSize={10.5} w={21} split={11} />

      <text x={262.6} y={788} textAnchor="middle" fontFamily={DEJAVU} fontSize={24} fill="#111">Cladogram</text>
      {groups.map((g, i) => (
        <g key={g}>
          <rect x={13} y={834 + i * 20} width={27} height={10} fill={groupColors[g]} stroke="#111" strokeWidth={1.4} />
          <Squeezed x={50} y={844 + i * 20} sx={0.8} size={14.5}>{g}</Squeezed>
        </g>
      ))}
      {cladeLegend.map((t, i) => (
        <g key={t}>
          <rect x={553.5} y={826 + i * 15.5} width={21} height={8} fill={groupColors[cladeLegendGroups[i]]} stroke="#111" strokeWidth={1.2} />
          <Squeezed x={583} y={834 + i * 15.5} sx={0.9} size={11.5}>{t}</Squeezed>
        </g>
      ))}
      <Squeezed x={57} y={939} sx={0.85} size={10.5} anchor="middle" fill="#00007f" rotate={-53}>p__Firmicutes</Squeezed>
      <Squeezed x={57} y={972} sx={1} size={10} anchor="middle" fill="#00007f" rotate={-60}>i</Squeezed>
      <Squeezed x={72} y={982} sx={1} size={10} anchor="middle" fill="#00007f" rotate={-60}>h</Squeezed>
      <Squeezed x={107} y={964} sx={1} size={10} anchor="middle" fill="#00007f" rotate={-60}>g</Squeezed>
      <Squeezed x={420} y={886} sx={0.85} size={10.5} anchor="middle" fill="#7f0000" rotate={37}>p__Bacteroidetes</Squeezed>
      <Squeezed x={419} y={908} sx={1} size={10} anchor="middle" fill="#7f0000" rotate={37}>f</Squeezed>
      <Squeezed x={406} y={922} sx={1} size={10} anchor="middle" fill="#7f0000" rotate={37}>e</Squeezed>
      <Squeezed x={423} y={966} sx={1} size={10} anchor="middle" fill="#7f0000" rotate={37}>d</Squeezed>
      <Squeezed x={480} y={998} sx={1} size={10} anchor="middle" fill="#222" rotate={70}>c</Squeezed>
      <Squeezed x={465} y={1004} sx={1} size={10} anchor="middle" fill="#222" rotate={70}>b</Squeezed>
      <Squeezed x={447} y={1011} sx={1} size={10} anchor="middle" fill="#222" rotate={70}>a</Squeezed>

      {groups.map((g, i) => {
        const sx = [849.8, 926, 1016][i];
        return (
          <g key={g}>
            <rect x={sx} y={849} width={26} height={12} fill={groupColors[g]} stroke="#111" strokeWidth={1.4} />
            <Squeezed x={sx + 34} y={862} sx={0.76} size={18}>{g}</Squeezed>
          </g>
        );
      })}
      <Squeezed x={1139.5} y={1226} sx={0.79} size={19} anchor="middle">LDA SCORE (log 10)</Squeezed>

      {samples.map((s, i) => (
        <text key={s} x={[523, 568, 620.5][i]} y={2138} textAnchor="middle" fontFamily={SERIF} fontWeight="bold" fontSize={14} fill="#111">{s}</text>
      ))}

      <text x={702} y={1625} fontFamily={SANS} fontSize={16} fill="#111">value</text>
      <rect x={701.8} y={1634.8} width={19} height={97} fill="url(#valueBar)" />
      {valueTicks.map((t, i) => (
        <text key={t} x={729} y={1650 + i * 21} fontFamily={SANS} fontSize={12.5} fill="#111">{t}</text>
      ))}
      <text x={702} y={1770} fontFamily={SANS} fontSize={15.5} fill="#111">Phylum</text>
      {phylumLegend.map((t, i) => (
        <g key={t}>
          <line x1={703} x2={720} y1={1790.5 + i * 19.6} y2={1790.5 + i * 19.6} stroke={phylumLineColors[i]} strokeWidth={1.2} />
          <circle cx={711.5} cy={1790.5 + i * 19.6} r={2.2} fill="none" stroke={phylumLineColors[i]} strokeWidth={1} />
          <text x={729} y={1795 + i * 19.6} fontFamily={SANS} fontSize={13} fill="#111">{t}</text>
        </g>
      ))}

      <rect x={1312.6} y={1483} width={14} height={216.5} fill="url(#corrBar)" />
      {corrTicks.map((t, i) => (
        <text key={t} x={1332} y={1502.5 + i * 28} fontFamily={SANS} fontSize={14} fill="#222">{String(t)}</text>
      ))}
    </svg>
  );
};

export default function App() {
  return (
    <div style={{ position: 'absolute', left: 0, top: 0, width: 1439, height: 2143, background: '#fff', overflow: 'hidden' }}>
      <StackPanel names={phylumNames} vals={[phylumCtrl, phylumDlyt, phylumMst]} left={0} plotTop={2} plotBottom={636.7} plotLeft={158.4} plotRight={366} padL={6.4} padR={5.5} barSize={45} labelDx={[-12, -7.6, 3]} />
      <StackPanel names={genusNames} vals={[genusCtrl, genusDlyt, genusMst]} left={720} plotTop={20.4} plotBottom={627.6} plotLeft={848.8} plotRight={1043.7} padL={5.7} padR={6.2} barSize={42.6} labelDx={[-13, -4.5, 12]} />
      <CladeShades />
      <CladeTree />
      <LdaPanel />
      <LeafTree />
      <LeafHeat />
      <CorrDendro />
      <CorrHeat />
      <Overlay />
    </div>
  );
}
